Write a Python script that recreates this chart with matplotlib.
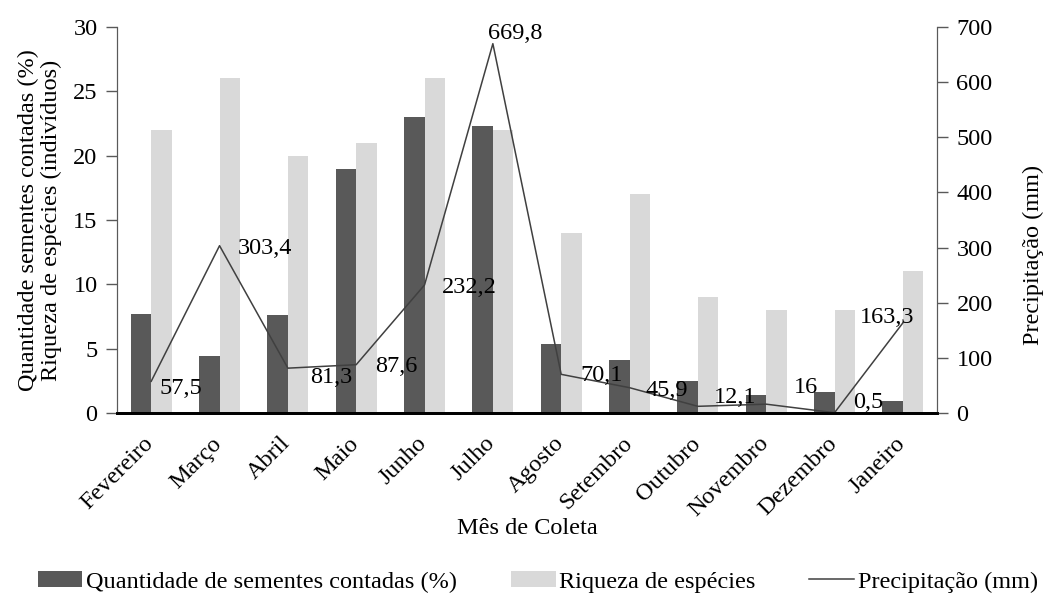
import matplotlib
matplotlib.use("Agg")
import matplotlib.pyplot as plt
import numpy as np
from matplotlib.patches import Patch
from matplotlib.lines import Line2D

months = ["Fevereiro", "Março", "Abril", "Maio", "Junho", "Julho", "Agosto",
          "Setembro", "Outubro", "Novembro", "Dezembro", "Janeiro"]
sementes = [7.7, 4.4, 7.6, 19.0, 23.0, 22.3, 5.4, 4.1, 2.5, 1.4, 1.6, 0.9]
riqueza = [22, 26, 20, 21, 26, 22, 14, 17, 9, 8, 8, 11]
precip = [57.5, 303.4, 81.3, 87.6, 232.2, 669.8, 70.1, 45.9, 12.1, 16.0, 0.5, 163.3]
precip_labels = ["57,5", "303,4", "81,3", "87,6", "232,2", "669,8", "70,1",
                 "45,9", "12,1", "16", "0,5", "163,3"]
label_offsets = [(21, -5), (33, -2), (31, -7), (29, -1), (32, -2), (16, 7),
                 (29, -1), (27, -2), (27, 6), (29, 12), (24, 7), (-11, 4)]

plt.rcParams['font.family'] = ['Liberation Serif', 'DejaVu Serif']
plt.rcParams['font.size'] = 17.5

fig = plt.figure(figsize=(10.46, 5.95), dpi=100)
ax = fig.add_axes([0.1119, 0.3059, 0.7839, 0.6487])
ax2 = ax.twinx()

x = np.arange(len(months))
w = 0.3
ax.bar(x - w / 2, sementes, width=w, color="#595959", zorder=2)
ax.bar(x + w / 2, riqueza, width=w, color="#d9d9d9", zorder=2)

ax2.plot(x, precip, color="#404040", lw=1.1)
for xi, yi, lab, off in zip(x, precip, precip_labels, label_offsets):
    ax2.annotate(lab, (xi, yi), xytext=off, textcoords="offset points",
                 ha="center", va="center")

ax.set_xlim(-0.5, len(months) - 0.5)
ax.set_ylim(0, 30)
ax.set_yticks(range(0, 31, 5))
ax2.set_ylim(0, 700)
ax2.set_yticks(range(0, 701, 100))

ax.set_xticks(x)
ax.set_xticklabels([])
ax.tick_params(axis="x", length=0)
for xi, m in zip(x, months):
    ax.annotate(m, (xi, 0), xycoords=ax.get_xaxis_transform(),
                xytext=(-5.8, -14.4), textcoords="offset points",
                rotation=45, ha="right", va="top", rotation_mode="anchor",
                annotation_clip=False)
ax.tick_params(axis="y", length=8, width=1, color="#595959", pad=6)
ax2.tick_params(axis="y", length=8, width=1, color="#595959", pad=6)

for a in (ax, ax2):
    a.spines["top"].set_visible(False)
    a.spines["left"].set_color("#595959")
    a.spines["right"].set_color("#595959")
    a.spines["bottom"].set_color("black")
    a.spines["bottom"].set_linewidth(2)

ax.set_ylabel("Quantidade sementes contadas (%)\nRiqueza de espécies (indivíduos)",
              linespacing=1.15, va="center")
ax.yaxis.set_label_coords(-0.094, 0.5)
ax2.set_ylabel("Precipitação (mm)", va="center")
ax2.yaxis.set_label_coords(1.117, 0.41)
ax.set_xlabel("Mês de Coleta", va="center")
ax.xaxis.set_label_coords(0.5, -0.298)

handles = [Patch(facecolor="#595959"), Patch(facecolor="#d9d9d9"),
           Line2D([], [], color="#404040", lw=1.1)]
labels = ["Quantidade de sementes contadas (%)", "Riqueza de espécies", "Precipitação (mm)"]
fig.legend(handles, labels, loc="center", bbox_to_anchor=(0.514, 0.022), ncol=3,
           frameon=False, handlelength=1.85, handleheight=0.6, handletextpad=0.15,
           columnspacing=2.2, borderpad=0, borderaxespad=0)

fig.savefig("out.png", dpi=100)
